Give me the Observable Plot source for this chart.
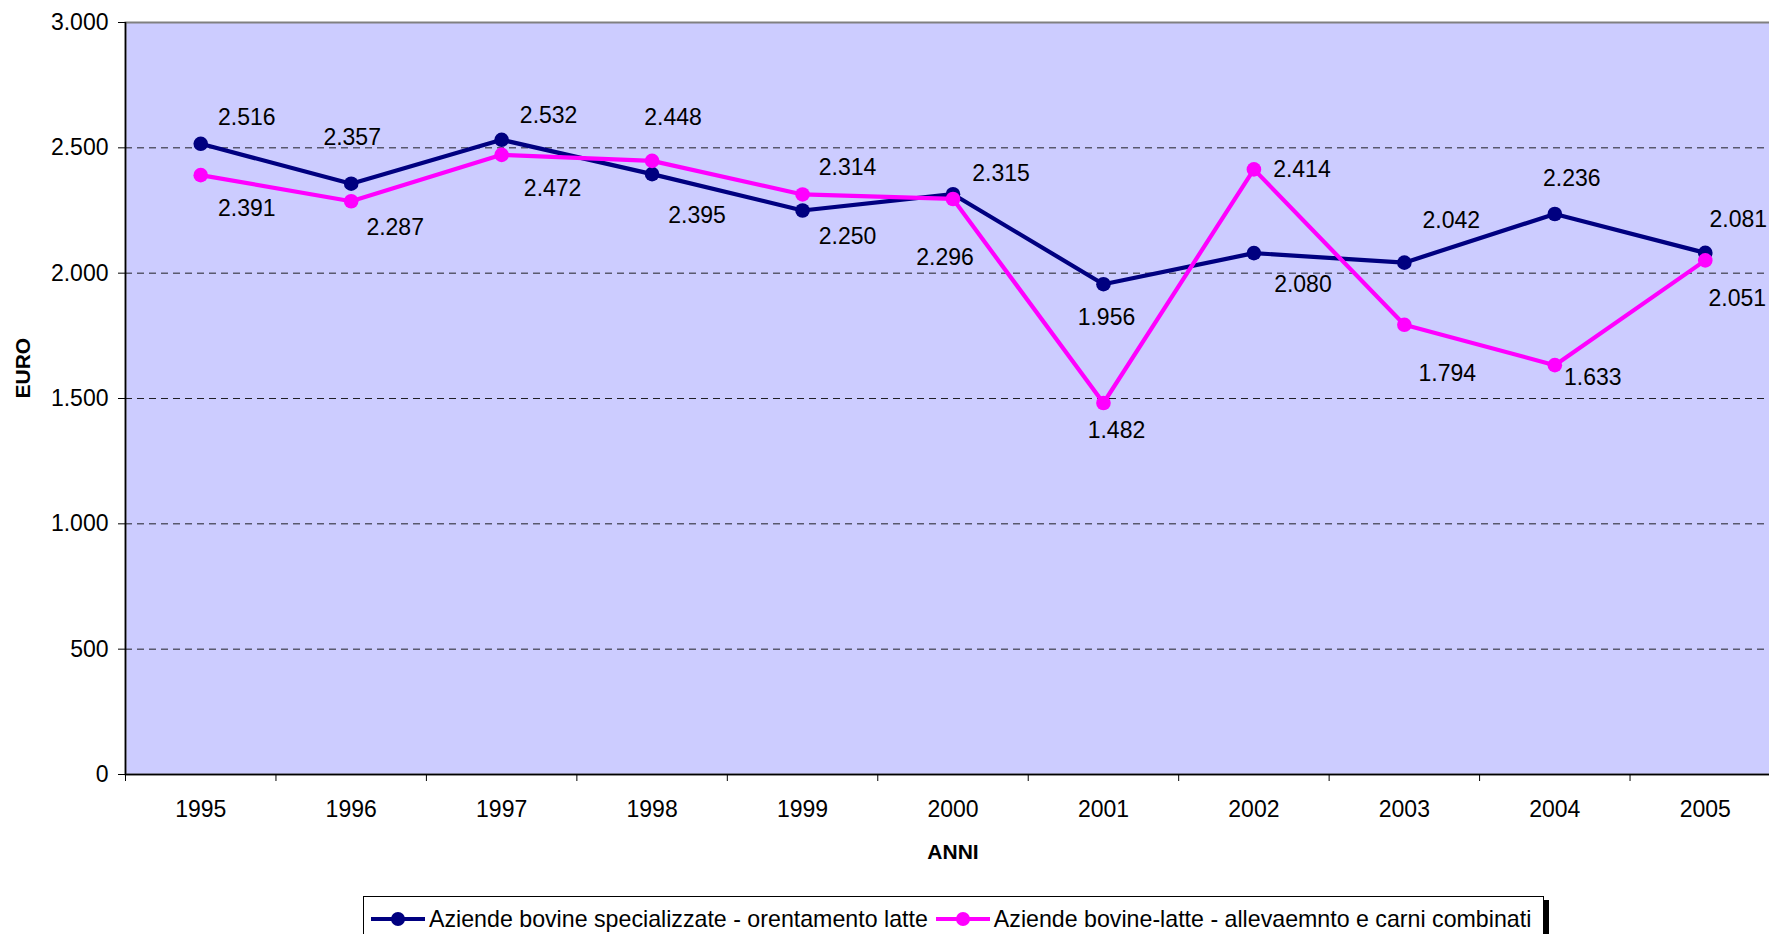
<!DOCTYPE html>
<html>
<head>
<meta charset="utf-8">
<script src="https://cdn.jsdelivr.net/npm/d3@7"></script>
<script src="https://cdn.jsdelivr.net/npm/@observablehq/plot@0.6"></script>
<style>
  html, body { margin: 0; padding: 0; background: #fff; overflow: hidden; }
  #wrap { position: relative; width: 1769px; height: 934px; overflow: hidden; font-family: "Liberation Sans", Arial, sans-serif; }
  #chart { width: 1790px; }
  #chart svg { max-width: none !important; display: block; }
  #legend { position: absolute; left: 363px; top: 896px; height: 44px; border: 1px solid #000; background: #fff;
            box-shadow: 5px 4px 0 #000; display: flex; align-items: center; padding: 0 6px 0 5px; font-size: 23.2px; color: #000; white-space: nowrap; }
  #legend .item { display: flex; align-items: center; margin-right: 6px; }
  #legend svg { margin-right: 2px; }
</style>
</head>
<body>
<div id="wrap"><div id="chart"></div><div id="legend"></div></div>
<script>
// ---- data ----
const years = [1995, 1996, 1997, 1998, 1999, 2000, 2001, 2002, 2003, 2004, 2005];
const specializzate = [2516, 2357, 2532, 2395, 2250, 2315, 1956, 2080, 2042, 2236, 2081];
const combinate = [2391, 2287, 2472, 2448, 2314, 2296, 1482, 2414, 1794, 1633, 2051];
const seriesNames = [
  "Aziende bovine specializzate - orentamento latte",
  "Aziende bovine-latte - allevaemnto e carni combinati"
];
const seriesColors = ["#000080", "#FF00FF"];
const yTicks = [0, 500, 1000, 1500, 2000, 2500, 3000];
const gridValues = [500, 1000, 1500, 2000, 2500];
const xTitle = "ANNI";
const yTitle = "EURO";

// label offsets in pixels (layout only)
const offsetsSpec = [[46,-26],[1,-46],[47,-24],[45,41],[45,26],[48,-21],[3,33],[49,32],[47,-42],[17,-35],[33,-33]];
const offsetsComb = [[46,33],[44,26],[51,34],[21,-43],[45,-27],[-8,59],[13,28],[48,0],[43,49],[38,12],[32,38]];

const it = d3.formatLocale({decimal: ",", thousands: ".", grouping: [3], currency: ["", " €"]});
const fmt = it.format(",d");

const rows = [];
years.forEach((yr, i) => {
  rows.push({year: yr, value: specializzate[i], series: seriesNames[0], off: offsetsSpec[i]});
});
years.forEach((yr, i) => {
  rows.push({year: yr, value: combinate[i], series: seriesNames[1], off: offsetsComb[i]});
});
const s0 = rows.filter(d => d.series === seriesNames[0]);
const s1 = rows.filter(d => d.series === seriesNames[1]);

const FONT = 23;
const labelMarks = rows.map(d => Plot.text([d], {
  x: "year", y: "value", text: r => fmt(r.value),
  dx: d.off[0], dy: d.off[1], fontSize: FONT, fill: "#000", textAnchor: "middle"
}));

const chart = Plot.plot({
  width: 1790,
  height: 880,
  marginLeft: 125,
  marginRight: 10,
  marginTop: 22,
  marginBottom: 106,
  style: {fontFamily: "'Liberation Sans', Arial, sans-serif", fontSize: FONT + "px", background: "transparent", overflow: "visible", maxWidth: "none"},
  x: {type: "linear", domain: [years[0] - 0.5, years[years.length - 1] + 0.5]},
  y: {domain: [0, 3000]},
  color: {domain: seriesNames, range: seriesColors},
  marks: [
    Plot.frame({fill: "#CCCCFF", stroke: "#808080", strokeWidth: 2}),
    Plot.ruleY(gridValues, {stroke: "#000", strokeOpacity: 0.85, strokeDasharray: "7,5", strokeWidth: 1}),
    Plot.ruleX([years[0] - 0.5], {stroke: "#000", strokeWidth: 1.5}),
    Plot.ruleY([0], {stroke: "#000", strokeWidth: 1.5}),
    Plot.axisY({ticks: yTicks, tickSize: 7, tickPadding: 10, tickFormat: fmt, fontSize: FONT, label: null, stroke: "#000"}),
    Plot.axisX({ticks: d3.range(years[0] - 0.5, years[years.length - 1] + 1, 1), tickSize: 7, tickFormat: () => "", label: null, stroke: "#000"}),
    Plot.axisX({ticks: years, tickSize: 0, tickPadding: 26, tickFormat: d => String(d), fontSize: FONT, label: null}),
    Plot.line(s0, {x: "year", y: "value", stroke: "series", strokeWidth: 4.2}),
    Plot.dot(s0, {x: "year", y: "value", fill: "series", r: 7.3}),
    Plot.line(s1, {x: "year", y: "value", stroke: "series", strokeWidth: 4.2}),
    Plot.dot(s1, {x: "year", y: "value", fill: "series", r: 7.3}),
    ...labelMarks,
    Plot.text([xTitle], {frameAnchor: "bottom", dy: 84, text: d => d, fontSize: 21, fontWeight: "bold"}),
    Plot.text([yTitle], {frameAnchor: "left", dx: -102, rotate: -90, text: d => d, fontSize: 21, fontWeight: "bold"})
  ]
});
document.getElementById("chart").appendChild(chart);

// legend
const legend = document.getElementById("legend");
seriesNames.forEach((name, i) => {
  const item = document.createElement("div");
  item.className = "item";
  item.innerHTML = `<svg width="58" height="20"><line x1="2" y1="10" x2="56" y2="10" stroke="${seriesColors[i]}" stroke-width="4"/><circle cx="29" cy="10" r="7" fill="${seriesColors[i]}"/></svg><span>${name}</span>`;
  legend.appendChild(item);
});
</script>
</body>
</html>
